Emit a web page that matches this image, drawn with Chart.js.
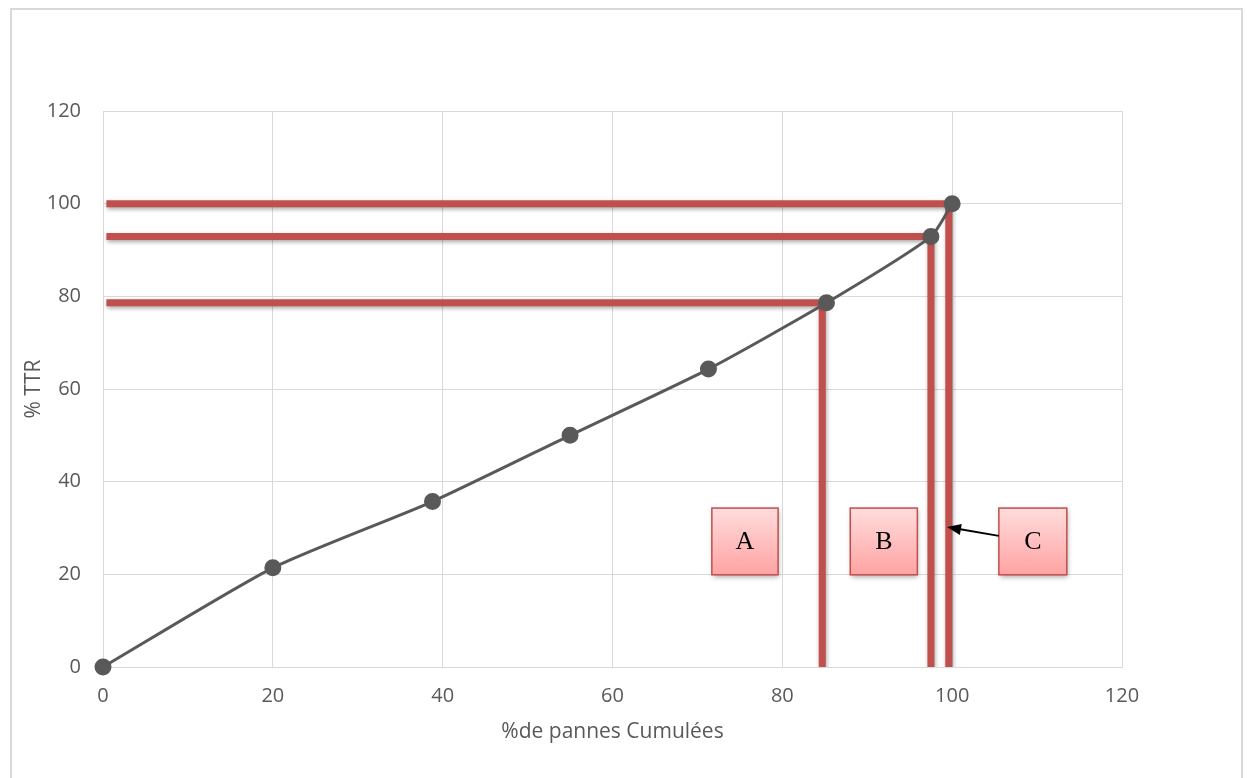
<!DOCTYPE html>
<html lang="fr">
<head>
  <meta charset="UTF-8">
  <title>% TTR vs % de pannes cumulées</title>
  <script src="https://cdn.jsdelivr.net/npm/chart.js"></script>
  <style>
    html, body { margin: 0; padding: 0; background: #fff; overflow: hidden; }
    #frame {
      position: absolute; left: 10px; top: 8px;
      width: 1229px; height: 800px;
      border: 2px solid #d9d9d9;
    }
    #wrap { position: absolute; left: 0; top: 0; width: 1247px; height: 778px; }
  </style>
</head>
<body>
  <div id="frame"></div>
  <div id="wrap"><canvas id="paretoChart"></canvas></div>

  <script>
    // curve points
    const cumPannes = [0, 20, 38.8, 55, 71.3, 85.2, 97.5, 100];
    const ttr = [0, 21.4, 35.7, 50, 64.3, 78.6, 92.9, 100];

    // red reference lines (A, B, C)
    const refX = [84.7, 97.5, 99.6];
    const refY = [78.6, 92.9, 100];

    // label boxes in data units
    const boxLabels = ['A', 'B', 'C'];
    const boxLeft = [71.7, 88.0, 105.5];
    const boxRight = [79.5, 95.9, 113.5];
    const boxTop = 34.3, boxBottom = 19.9;
    // arrow from box C to line C
    const arrowFrom = { x: 105.5, y: 28.3 };
    const arrowTo = { x: 99.4, y: 30.2 };

    const RED = '#c0504d';
    const GREY = '#595959';

    const redSets = [];
    refY.forEach((y, i) => {
      redSets.push({
        data: [{ x: 0.4, y: y }, { x: refX[i] + 0.4, y: y }],
        red: true
      });
      redSets.push({
        data: [{ x: refX[i], y: y + 0.7 }, { x: refX[i], y: 0 }],
        red: true
      });
    });

    const shadowPlugin = {
      id: 'redShadow',
      beforeDatasetDraw(chart, args) {
        const ds = chart.data.datasets[args.index];
        if (ds.red) {
          chart.ctx.save();
          chart.ctx.shadowColor = 'rgba(0,0,0,0.35)';
          chart.ctx.shadowBlur = 4;
          chart.ctx.shadowOffsetX = 1;
          chart.ctx.shadowOffsetY = 2;
        }
      },
      afterDatasetDraw(chart, args) {
        if (chart.data.datasets[args.index].red) chart.ctx.restore();
      }
    };

    const boxPlugin = {
      id: 'boxes',
      afterDatasetsDraw(chart) {
        const ctx = chart.ctx;
        const xs = chart.scales.x, ys = chart.scales.y;
        boxLabels.forEach((lab, i) => {
          const l = xs.getPixelForValue(boxLeft[i]);
          const r = xs.getPixelForValue(boxRight[i]);
          const t = ys.getPixelForValue(boxTop);
          const b = ys.getPixelForValue(boxBottom);
          ctx.save();
          ctx.shadowColor = 'rgba(0,0,0,0.35)';
          ctx.shadowBlur = 5;
          ctx.shadowOffsetX = 1;
          ctx.shadowOffsetY = 2;
          const g = ctx.createLinearGradient(0, t, 0, b);
          g.addColorStop(0, '#ffdcdc');
          g.addColorStop(1, '#ffa3a3');
          ctx.fillStyle = g;
          ctx.fillRect(l, t, r - l, b - t);
          ctx.restore();
          ctx.save();
          ctx.strokeStyle = RED;
          ctx.lineWidth = 1.5;
          ctx.strokeRect(l, t, r - l, b - t);
          ctx.fillStyle = '#000';
          ctx.font = '26px "Liberation Serif", "Times New Roman", serif';
          ctx.textAlign = 'center';
          ctx.textBaseline = 'middle';
          ctx.fillText(lab, (l + r) / 2, (t + b) / 2 + 1);
          ctx.restore();
        });

        // arrow
        const x1 = xs.getPixelForValue(arrowFrom.x), y1 = ys.getPixelForValue(arrowFrom.y);
        const x2 = xs.getPixelForValue(arrowTo.x), y2 = ys.getPixelForValue(arrowTo.y);
        const ang = Math.atan2(y2 - y1, x2 - x1);
        const head = 15;
        ctx.save();
        ctx.strokeStyle = '#000';
        ctx.fillStyle = '#000';
        ctx.lineWidth = 2;
        ctx.beginPath();
        ctx.moveTo(x1, y1);
        ctx.lineTo(x2 - Math.cos(ang) * head * 0.8, y2 - Math.sin(ang) * head * 0.8);
        ctx.stroke();
        ctx.beginPath();
        ctx.moveTo(x2, y2);
        ctx.lineTo(x2 - head * Math.cos(ang - 0.38), y2 - head * Math.sin(ang - 0.38));
        ctx.lineTo(x2 - head * Math.cos(ang + 0.38), y2 - head * Math.sin(ang + 0.38));
        ctx.closePath();
        ctx.fill();
        ctx.restore();
      }
    };

    const ctx = document.getElementById('paretoChart').getContext('2d');
    new Chart(ctx, {
      type: 'scatter',
      data: {
        datasets: redSets.map(s => ({
          data: s.data,
          red: true,
          showLine: true,
          borderColor: RED,
          borderWidth: 7,
          borderCapStyle: 'butt',
          pointRadius: 0,
          order: 2
        })).concat([{
          label: '% TTR',
          data: cumPannes.map((x, i) => ({ x: x, y: ttr[i] })),
          showLine: true,
          borderColor: GREY,
          borderWidth: 3,
          tension: 0.2,
          clip: false,
          pointRadius: 7,
          pointBackgroundColor: GREY,
          pointBorderColor: GREY,
          order: 1
        }])
      },
      options: {
        responsive: true,
        maintainAspectRatio: false,
        animation: false,
        layout: { padding: { left: 10, top: 111, right: 125, bottom: 11 } },
        plugins: {
          legend: { display: false },
          tooltip: { enabled: false }
        },
        scales: {
          x: {
            type: 'linear',
            min: 0, max: 120,
            afterFit: s => { s.height = 100; },
            ticks: {
              stepSize: 20, color: GREY, padding: 17,
              font: { family: '"Open Sans", sans-serif', size: 20 }
            },
            grid: { color: '#d9d9d9', drawTicks: false },
            border: { color: '#d9d9d9' },
            title: {
              display: true, text: '%de pannes Cumulées', color: GREY,
              font: { family: '"Open Sans", sans-serif', size: 21 },
              padding: { top: 4, bottom: 22 }
            }
          },
          y: {
            min: 0, max: 120,
            afterFit: s => { s.width = 93; },
            ticks: {
              stepSize: 20, color: GREY, padding: 22,
              font: { family: '"Open Sans", sans-serif', size: 20 }
            },
            grid: { color: '#d9d9d9', drawTicks: false },
            border: { color: '#d9d9d9' },
            title: {
              display: true, text: '% TTR', color: GREY,
              font: { family: '"Open Sans", sans-serif', size: 21 },
              padding: { top: 11, bottom: 4 }
            }
          }
        }
      },
      plugins: [shadowPlugin, boxPlugin]
    });
  </script>
</body>
</html>
